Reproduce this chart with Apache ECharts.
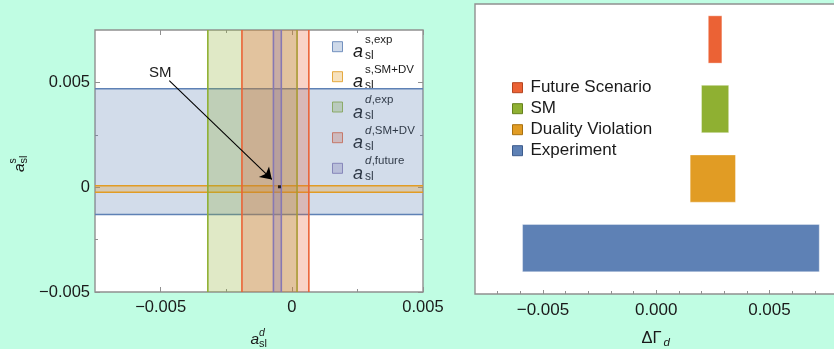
<!DOCTYPE html>
<html>
<head>
<meta charset="utf-8">
<script src="https://cdn.jsdelivr.net/npm/echarts@6/dist/echarts.min.js"></script>
<style>
  html, body { margin: 0; padding: 0; background: #c0fde3; }
  #chart { width: 834px; height: 349px; }
</style>
</head>
<body>
<div id="chart"></div>
<script>
// ---- semileptonic asymmetry constraints (left panel) ----
const sBandExp    = [-0.0013, 0.0047];    // a_sl^s experiment
const sBandSMDV   = [-0.00024, 0.00007];  // a_sl^s SM + duality violation
const dBandExp    = [-0.0032, 0.0002];    // a_sl^d experiment
const dBandSMDV   = [-0.0019, 0.00065];   // a_sl^d SM + duality violation
const dBandFuture = [-0.0007, -0.0004];   // a_sl^d future scenario
const smPoint     = [-0.00047, 0.00002];  // Standard Model value
const smArrow     = [[-0.00467, 0.00508], [-0.00076, 0.00037]];

const leftXMajor = [-0.005, 0, 0.005];
const leftXMinor = [-0.0025, 0.0025];
const leftYMajor = [-0.005, 0, 0.005];
const leftYMinor = [-0.0025, 0.0025];

// ---- Delta Gamma_d ranges (right panel) ----
const dgCategories = ['Experiment', 'Duality Violation', 'SM', 'Future Scenario'];
const dgLow  = [-0.0059, 0.0015, 0.0020, 0.0023];
const dgHigh = [0.0072, 0.0035, 0.0032, 0.0029];
const dgRow  = [1, 2, 3, 4];
const rightXMajor = [-0.005, 0, 0.005];
const rightXMinor = [-0.007, -0.006, -0.004, -0.003, -0.002, -0.001,
                     0.001, 0.002, 0.003, 0.004, 0.006, 0.007];

const C = {
  blue: '#5E81B5', orange: '#E19C24', green: '#8FB032',
  red: '#EB6235', purple: '#8778B3'
};
const FONT = '"Liberation Sans", Arial, sans-serif';
const TXT = '#1a1a1a';
const FRAME = '#909090';

function rgba(hex, a) {
  const n = parseInt(hex.slice(1), 16);
  return `rgba(${(n >> 16) & 255},${(n >> 8) & 255},${n & 255},${a})`;
}

function fmtLeft(v) {
  if (Math.abs(v) < 1e-12) return '0';
  return (v < 0 ? '\u2212' : '') + Math.abs(v).toFixed(3);
}
function fmtRight(v) {
  if (Math.abs(v) < 1e-12) return '0.000';
  return (v < 0 ? '\u2212' : '') + Math.abs(v).toFixed(3);
}

// axis that only draws ticks at the given values
function tickAxis(extra, values, len) {
  return Object.assign({
    type: 'value',
    axisLine: { show: false, onZero: false },
    splitLine: { show: false },
    axisLabel: { show: false },
    axisTick: { show: true, inside: true, length: len, customValues: values,
                lineStyle: { color: FRAME, width: 1 } }
  }, extra);
}

// shaded band with edge lines, spanning the whole plot in one direction
function bandSeries(name, range, color, dir) {
  return {
    type: 'custom', name: name, xAxisIndex: 0, yAxisIndex: 0,
    clip: true, silent: true,
    data: [range],
    encode: dir === 'h' ? { y: [0, 1] } : { x: [0, 1] },
    renderItem: function (params, api) {
      const cs = params.coordSys;
      const lo = api.value(0), hi = api.value(1);
      const edge = { stroke: color, lineWidth: 1.6, fill: null };
      if (dir === 'h') {
        const y1 = api.coord([0, hi])[1], y0 = api.coord([0, lo])[1];
        return { type: 'group', children: [
          { type: 'rect', shape: { x: cs.x, y: y1, width: cs.width, height: y0 - y1 },
            style: { fill: rgba(color, 0.28) } },
          { type: 'line', shape: { x1: cs.x, y1: y1, x2: cs.x + cs.width, y2: y1 }, style: edge },
          { type: 'line', shape: { x1: cs.x, y1: y0, x2: cs.x + cs.width, y2: y0 }, style: edge }
        ] };
      }
      const x0 = api.coord([lo, 0])[0], x1 = api.coord([hi, 0])[0];
      return { type: 'group', children: [
        { type: 'rect', shape: { x: x0, y: cs.y, width: x1 - x0, height: cs.height },
          style: { fill: rgba(color, 0.28) } },
        { type: 'line', shape: { x1: x0, y1: cs.y, x2: x0, y2: cs.y + cs.height }, style: edge },
        { type: 'line', shape: { x1: x1, y1: cs.y, x2: x1, y2: cs.y + cs.height }, style: edge }
      ] };
    }
  };
}

// floating horizontal bar for one Delta Gamma_d range
function rangeBar(i, color) {
  return {
    type: 'custom', name: dgCategories[i], xAxisIndex: 4, yAxisIndex: 4,
    itemStyle: { color: color },
    data: [[dgLow[i], dgHigh[i], dgRow[i]]],
    encode: { x: [0, 1], y: 2 },
    renderItem: function (params, api) {
      const a = api.coord([api.value(0), api.value(2)]);
      const b = api.coord([api.value(1), api.value(2)]);
      const h = api.size([0, 0.68])[1];
      return { type: 'rect',
        shape: { x: a[0], y: a[1] - h / 2, width: b[0] - a[0], height: h },
        style: { fill: color, stroke: 'rgba(255,255,255,0.35)', lineWidth: 1 } };
    }
  };
}

// text pieces placed by baseline
function txt(x, baseline, text, size, italic) {
  return { type: 'text', x: x, y: baseline - 0.33 * size, silent: true,
    style: { text: text, fontSize: size, fontFamily: FONT,
      fontStyle: italic ? 'italic' : 'normal', fill: TXT,
      verticalAlign: 'middle', align: 'left' } };
}
// a_sl^{sup} symbol with origin at the baseline start of "a"
function aslSymbol(aSize, subSize, supSize, dx, subDrop, supRise, sup) {
  const parts = [
    txt(0, 0, 'a', aSize, true),
    txt(dx, subDrop, 'sl', subSize, false)
  ];
  if (sup[0] === 'd') {
    parts.push(txt(dx, -supRise, 'd', supSize, true));
    if (sup.length > 1) parts.push(txt(dx + 0.58 * supSize, -supRise, sup.slice(1), supSize, false));
  } else {
    parts.push(txt(dx, -supRise, sup, supSize, false));
  }
  return parts;
}

const legendRows = [
  { sup: 's,exp', color: C.blue, cy: 46.7 },
  { sup: 's,SM+DV', color: C.orange, cy: 76.7 },
  { sup: 'd,exp', color: C.green, cy: 107 },
  { sup: 'd,SM+DV', color: C.red, cy: 137.7 },
  { sup: 'd,future', color: C.purple, cy: 168.3 }
];

const graphics = [];
legendRows.forEach(function (r) {
  graphics.push({ type: 'rect', silent: true,
    shape: { x: 332.5, y: r.cy - 5, width: 10, height: 10 },
    style: { fill: rgba(r.color, 0.3), stroke: rgba(r.color, 0.85), lineWidth: 1 } });
  graphics.push({ type: 'group', x: 353, y: r.cy + 11.6,
    children: aslSymbol(18, 12, 11.5, 12, 1, 15, r.sup) });
});
// SM annotation
graphics.push(txt(149, 78, 'SM', 15));
// axis titles
graphics.push({ type: 'group', x: 250.5, y: 345, children: aslSymbol(15.5, 11, 10.5, 8.5, 3, 8.5, 'd') });
graphics.push({ type: 'group', x: 25, y: 172, rotation: Math.PI / 2,
  children: aslSymbol(15.5, 11, 10.5, 8.5, 3, 8.5, 's') });
graphics.push(txt(641.5, 343.5, '\u0394\u0393', 16.5));
graphics.push(txt(663.5, 347, 'd', 11.5, true));

const chart = echarts.init(document.getElementById('chart'));
chart.setOption({
  backgroundColor: '#c0fde3',
  animation: false,
  textStyle: { fontFamily: FONT },
  grid: [
    { left: 95, top: 30, width: 328, height: 262, show: true, backgroundColor: '#fff',
      borderColor: FRAME, borderWidth: 1.4, outerBoundsMode: 'none', containLabel: false },
    { left: 475, top: 4, width: 362.4, height: 290, show: true, backgroundColor: '#fff',
      borderColor: FRAME, borderWidth: 1.4, outerBoundsMode: 'none', containLabel: false }
  ],
  xAxis: [
    tickAxis({ gridIndex: 0, position: 'bottom', min: -0.0075, max: 0.005,
      axisLabel: { show: true, customValues: leftXMajor, formatter: fmtLeft, margin: 7,
                   fontSize: 16.5, color: TXT, fontFamily: FONT } }, leftXMajor, 5),
    tickAxis({ gridIndex: 0, position: 'bottom', min: -0.0075, max: 0.005 }, leftXMinor, 3),
    tickAxis({ gridIndex: 0, position: 'top', min: -0.0075, max: 0.005 }, leftXMajor, 5),
    tickAxis({ gridIndex: 0, position: 'top', min: -0.0075, max: 0.005 }, leftXMinor, 3),
    tickAxis({ gridIndex: 1, position: 'bottom', min: -0.008, max: 0.008,
      axisLabel: { show: true, customValues: rightXMajor, formatter: fmtRight, margin: 8,
                   fontSize: 17, color: TXT, fontFamily: FONT } }, rightXMajor, 4),
    tickAxis({ gridIndex: 1, position: 'bottom', min: -0.008, max: 0.008 }, rightXMinor, 3)
  ],
  yAxis: [
    tickAxis({ gridIndex: 0, position: 'left', min: -0.005, max: 0.0075,
      axisLabel: { show: true, customValues: leftYMajor, formatter: fmtLeft, margin: 5,
                   fontSize: 16.5, color: TXT, fontFamily: FONT } }, leftYMajor, 5),
    tickAxis({ gridIndex: 0, position: 'left', min: -0.005, max: 0.0075 }, leftYMinor, 3),
    tickAxis({ gridIndex: 0, position: 'right', min: -0.005, max: 0.0075 }, leftYMajor, 5),
    tickAxis({ gridIndex: 0, position: 'right', min: -0.005, max: 0.0075 }, leftYMinor, 3),
    { gridIndex: 1, type: 'value', min: 0.34, max: 4.51, show: false }
  ],
  legend: {
    data: [
      { name: 'Future Scenario', itemStyle: { borderColor: '#b5441f', borderWidth: 1 } },
      { name: 'SM', itemStyle: { borderColor: '#65801c', borderWidth: 1 } },
      { name: 'Duality Violation', itemStyle: { borderColor: '#a8700f', borderWidth: 1 } },
      { name: 'Experiment', itemStyle: { borderColor: '#3d5c8d', borderWidth: 1 } }
    ],
    orient: 'vertical', left: 512, top: 79.2, padding: 0, icon: 'rect',
    itemWidth: 10, itemHeight: 10, itemGap: 4, selectedMode: false,
    textStyle: { fontSize: 17, color: TXT, fontFamily: FONT, padding: [0, 0, 0, 3] }
  },
  graphic: graphics,
  series: [
    bandSeries('s exp', sBandExp, C.blue, 'h'),
    bandSeries('s SM+DV', sBandSMDV, C.orange, 'h'),
    bandSeries('d exp', dBandExp, C.green, 'v'),
    bandSeries('d SM+DV', dBandSMDV, C.red, 'v'),
    bandSeries('d future', dBandFuture, C.purple, 'v'),
    {
      type: 'scatter', name: 'SM point', xAxisIndex: 0, yAxisIndex: 0, z: 5,
      symbol: 'rect', symbolSize: 3, itemStyle: { color: '#000' }, silent: true,
      data: [smPoint],
      markLine: {
        silent: true, symbol: ['none', 'arrow'], symbolSize: 11, animation: false,
        lineStyle: { color: '#000', width: 1.1, type: 'solid' },
        label: { show: false },
        data: [[{ coord: smArrow[0] }, { coord: smArrow[1] }]]
      }
    },
    rangeBar(0, C.blue),
    rangeBar(1, C.orange),
    rangeBar(2, C.green),
    rangeBar(3, C.red)
  ]
});
</script>
</body>
</html>
